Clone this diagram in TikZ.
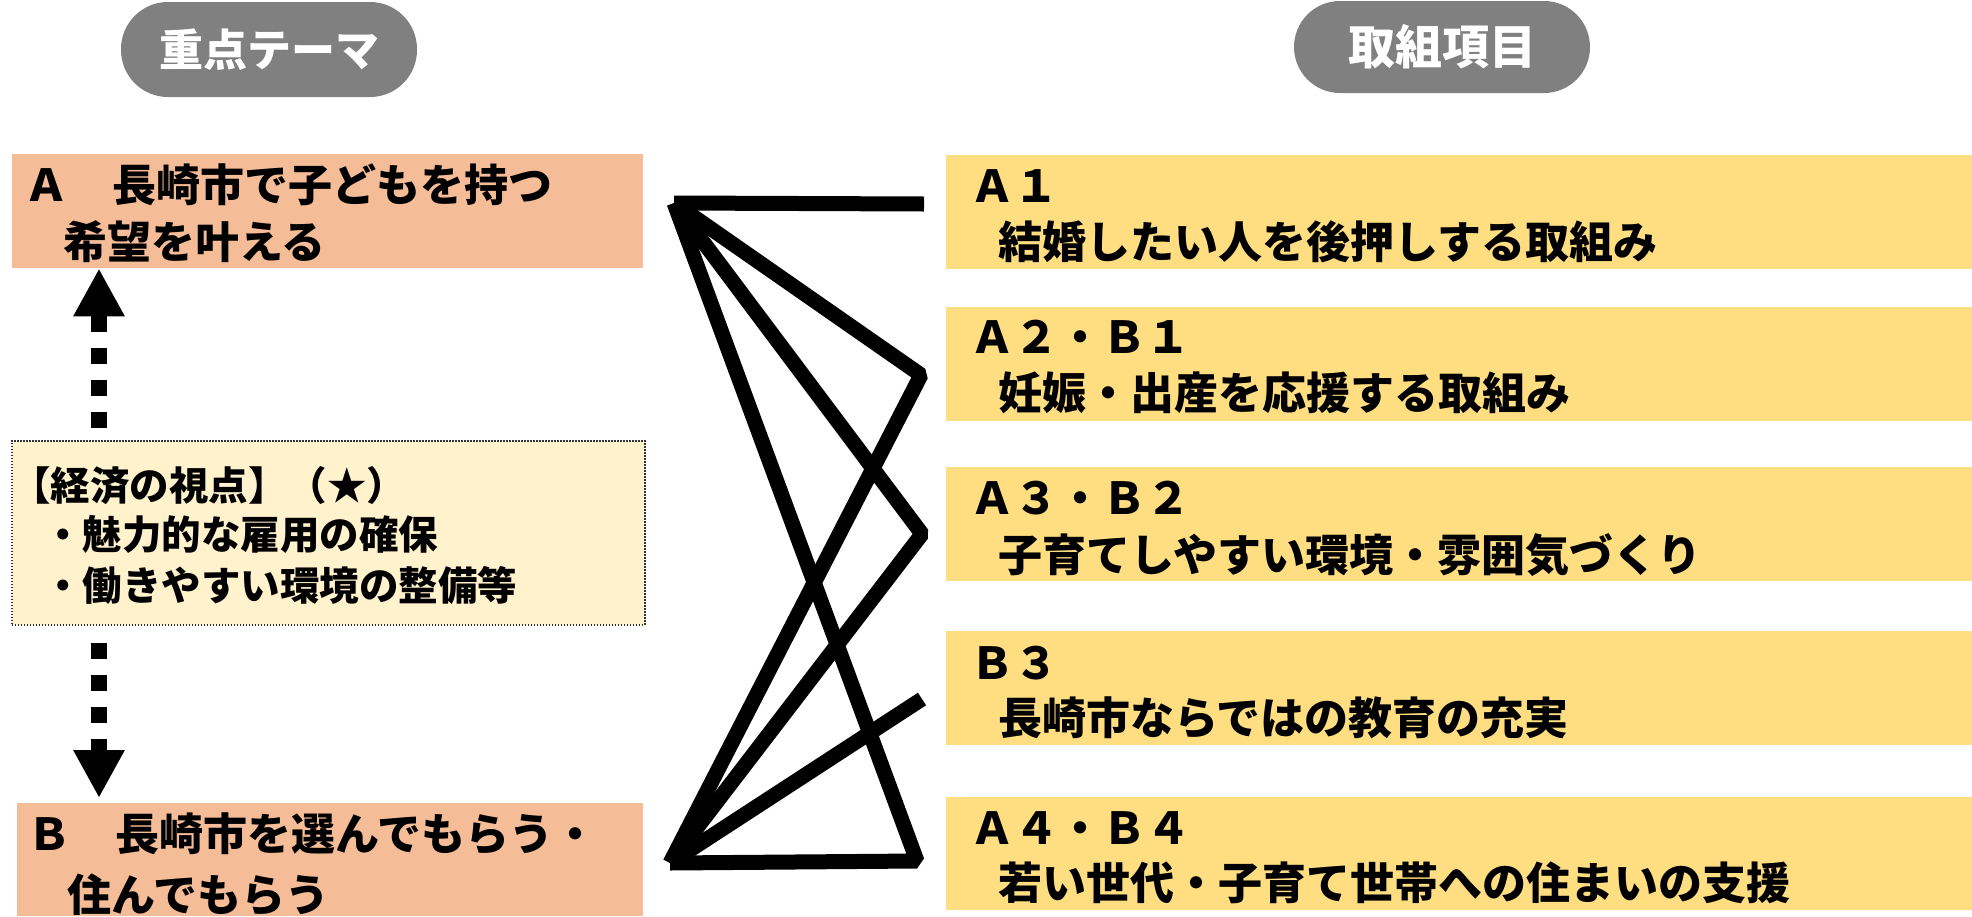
\documentclass[tikz,border=0pt]{standalone}
\usepackage{fontspec}
\newfontfamily\jp[BoldFont={Noto Sans CJK JP Black}]{Noto Sans CJK JP}
\usetikzlibrary{arrows.meta,calc}
\definecolor{pillgray}{HTML}{808080}
\definecolor{themeorange}{HTML}{F5BD97}
\definecolor{itemyellow}{HTML}{FFDE82}
\definecolor{notebg}{HTML}{FFF2CC}
\begin{document}
\begin{tikzpicture}[x=1pt,y=-1pt,
  pill/.style={fill=pillgray, inner sep=0pt, text=white, minimum width=296pt},
  themebox/.style={fill=themeorange, inner sep=0pt, anchor=north west},
  itembox/.style={fill=itemyellow, inner sep=0pt, anchor=north west, minimum width=1026pt, minimum height=114pt},
  notebox/.style={fill=notebg, draw=black!80, line width=1.5pt, dash pattern=on 1.5pt off 1.5pt, inner sep=0pt, anchor=north west},
  bigtxt/.style={anchor=base west, inner sep=0pt, font=\jp\bfseries\fontsize{44}{50}\selectfont},
  notetxt/.style={anchor=base west, inner sep=0pt, font=\jp\bfseries\fontsize{39.5}{46}\selectfont},
  conn/.style={line width=15pt, line join=bevel},
  dasharrow/.style={line width=16pt, dash pattern=on 16pt off 16pt, -{Triangle[length=48pt,width=48pt]}}
]
\fill[white] (0,0) rectangle (1972,916);
\useasboundingbox (0,0) rectangle (1972,916);

% header pills
\node[pill, minimum height=95pt, rounded corners=47pt, font=\jp\bfseries\fontsize{44}{50}\selectfont] (hl) at (269,49.5) {重点テーマ};
\node[pill, minimum height=92pt, rounded corners=46pt, font=\jp\bfseries\fontsize{47}{52}\selectfont] (hr) at (1442,47) {取組項目};

% theme boxes
\node[themebox, minimum width=631pt, minimum height=114pt] (ba) at (12,154) {};
\node[bigtxt] (ba1) at (24,201) {Ａ　長崎市で子どもを持つ};
\node[bigtxt] (ba2) at (63,258) {希望を叶える};

\node[notebox, minimum width=633pt, minimum height=184pt] (nb) at (11,440) {};
\node[notetxt] (nb1) at (11,500) {【経済の視点】（★）};
\node[notetxt] (nb2) at (43,549) {・魅力的な雇用の確保};
\node[notetxt] (nb3) at (43,600) {・働きやすい環境の整備等};

\node[themebox, minimum width=626pt, minimum height=113pt] (bb) at (17,803) {};
\node[bigtxt] (bb1) at (27,850) {Ｂ　長崎市を選んでもらう・};
\node[bigtxt] (bb2) at (67,911) {住んでもらう};

% item boxes
\node[itembox] (i1) at (946,155) {};
\node[bigtxt] (i1a) at (970,202) {Ａ１};
\node[bigtxt] (i1b) at (998,258) {結婚したい人を後押しする取組み};

\node[itembox] (i2) at (946,307) {};
\node[bigtxt] (i2a) at (970,353) {Ａ２・Ｂ１};
\node[bigtxt] (i2b) at (998,409) {妊娠・出産を応援する取組み};

\node[itembox] (i3) at (946,467) {};
\node[bigtxt] (i3a) at (970,514) {Ａ３・Ｂ２};
\node[bigtxt] (i3b) at (998,571) {子育てしやすい環境・雰囲気づくり};

\node[itembox] (i4) at (946,631) {};
\node[bigtxt] (i4a) at (970,679) {Ｂ３};
\node[bigtxt] (i4b) at (998,734) {長崎市ならではの教育の充実};

\node[itembox, minimum height=113pt] (i5) at (946,797) {};
\node[bigtxt] (i5a) at (970,844) {Ａ４・Ｂ４};
\node[bigtxt] (i5b) at (998,899) {若い世代・子育て世帯への住まいの支援};

% dashed arrows
\coordinate (ax) at (99,0);
\draw[dasharrow, shorten <=12pt] (nb.north -| ax) -- (ba.south -| ax);
\draw[dasharrow, shorten <=17pt, shorten >=5pt] (nb.south -| ax) -- (bb.north -| ax);

% connectors
\coordinate (va) at (674,203);
\coordinate (vb) at (670,863);
\coordinate (p1) at (924,204);
\coordinate (p2) at (921,375);
\coordinate (p3) at (922,534);
\coordinate (p5) at (917,861);
\coordinate (p4) at (922,699);
\draw[conn] (va) -- (p1);
\draw[conn] (va) -- (p2) -- (vb);
\draw[conn] (va) -- (p3) -- (vb);
\draw[conn] (va) -- (p5) -- (vb);
\draw[conn] (vb) -- (p4);
\end{tikzpicture}
\end{document}
